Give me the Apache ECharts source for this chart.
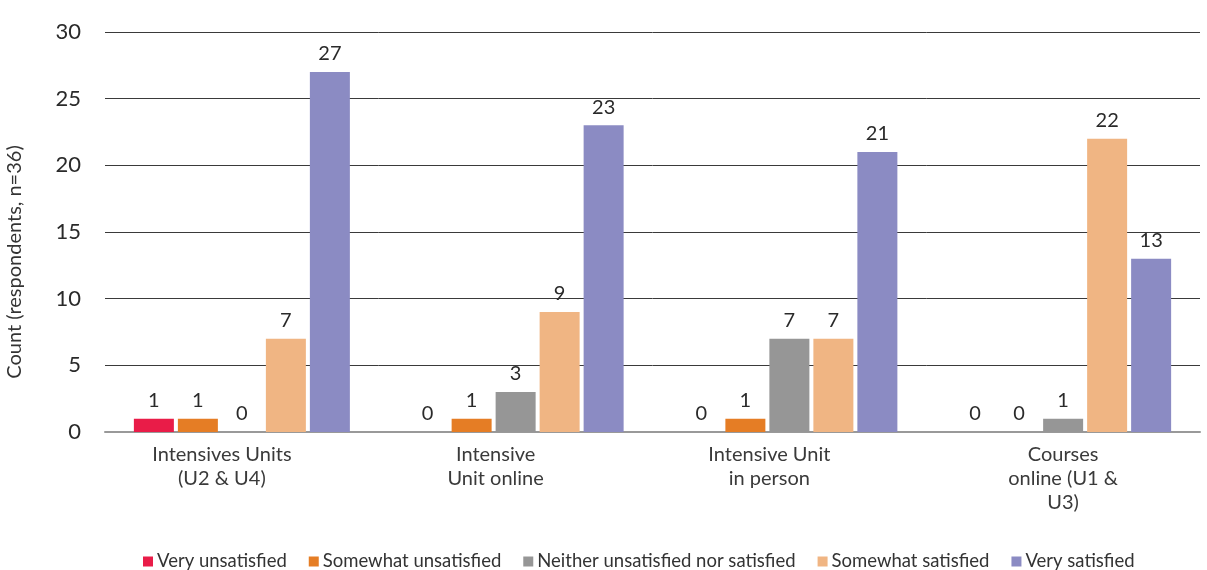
<!DOCTYPE html>
<html>
<head>
<meta charset="utf-8">
<script src="https://cdn.jsdelivr.net/npm/echarts@6/dist/echarts.min.js"></script>
<style>
  html, body { margin: 0; padding: 0; background: #fff; }
  #chart { width: 1207px; height: 570px; }
</style>
</head>
<body>
<div id="chart"></div>
<script>
// Satisfaction counts by delivery format
const categories = [
  'Intensives Units\n(U2 & U4)',
  'Intensive\nUnit online',
  'Intensive Unit\nin person',
  'Courses\nonline (U1 &\nU3)'
];
const seriesNames = [
  'Very unsatisfied',
  'Somewhat unsatisfied',
  'Neither unsatisfied nor satisfied',
  'Somewhat satisfied',
  'Very satisfied'
];
const veryUnsatisfied = [1, 0, 0, 0];
const somewhatUnsatisfied = [1, 1, 1, 0];
const neither = [0, 3, 7, 1];
const somewhatSatisfied = [7, 9, 7, 22];
const verySatisfied = [27, 23, 21, 13];
const yTicks = [0, 5, 10, 15, 20, 25, 30];

const values = [veryUnsatisfied, somewhatUnsatisfied, neither, somewhatSatisfied, verySatisfied];
const colors = ['#E91C48', '#E57D25', '#969696', '#F0B583', '#8B8BC3'];
const font = 'Lato, "Open Sans", sans-serif';

const chart = echarts.init(document.getElementById('chart'), null, { renderer: 'canvas' });

// Two-line category labels sit a little left of their bar group; the
// three-line label stays centred.
function categoryLabel(value) {
  const lines = value.split('\n');
  const style = lines.length < 3 ? 's' : 'c';
  return lines.map(l => '{' + style + '|' + l + '}').join('\n');
}

chart.setOption({
  animation: false,
  textStyle: { fontFamily: font },
  grid: {
    left: 105, right: 7, top: 32, bottom: 138,
    containLabel: false,
    outerBoundsMode: 'none'
  },
  legend: {
    data: seriesNames,
    left: 143,
    top: 552,
    padding: 0,
    itemWidth: 10,
    itemHeight: 10,
    itemGap: 22,
    icon: 'rect',
    textStyle: { fontSize: 18.5, color: '#333', fontFamily: font, padding: [0, 0, 0, -1] }
  },
  xAxis: {
    type: 'category',
    data: categories,
    axisTick: { show: false },
    axisLine: { show: true, lineStyle: { color: '#999', width: 2 } },
    axisLabel: {
      fontSize: 20,
      color: '#3a3a3a',
      lineHeight: 24,
      margin: 11,
      interval: 0,
      formatter: categoryLabel,
      rich: {
        s: { fontSize: 20, color: '#3a3a3a', lineHeight: 24, padding: [0, 40, 0, 0] },
        c: { fontSize: 20, color: '#3a3a3a', lineHeight: 24 }
      }
    }
  },
  yAxis: {
    type: 'value',
    min: yTicks[0],
    max: yTicks[yTicks.length - 1],
    interval: 5,
    name: 'Count (respondents, n=36)',
    nameLocation: 'middle',
    nameGap: 80,
    nameTextStyle: { fontSize: 20, color: '#333', padding: [0, 60, 0, 0] },
    axisLine: { show: false },
    axisTick: { show: false },
    axisLabel: { fontSize: 22, color: '#2a2a2a', margin: 24 },
    splitLine: { lineStyle: { color: '#3a3a3a', width: 1 } }
  },
  series: seriesNames.map((name, i) => ({
    name: name,
    type: 'bar',
    data: values[i],
    barWidth: 40,
    barGap: '10%',
    itemStyle: { color: colors[i] },
    label: {
      show: true,
      position: 'top',
      distance: 8,
      fontSize: 20,
      color: '#2a2a2a'
    }
  }))
});
</script>
</body>
</html>
